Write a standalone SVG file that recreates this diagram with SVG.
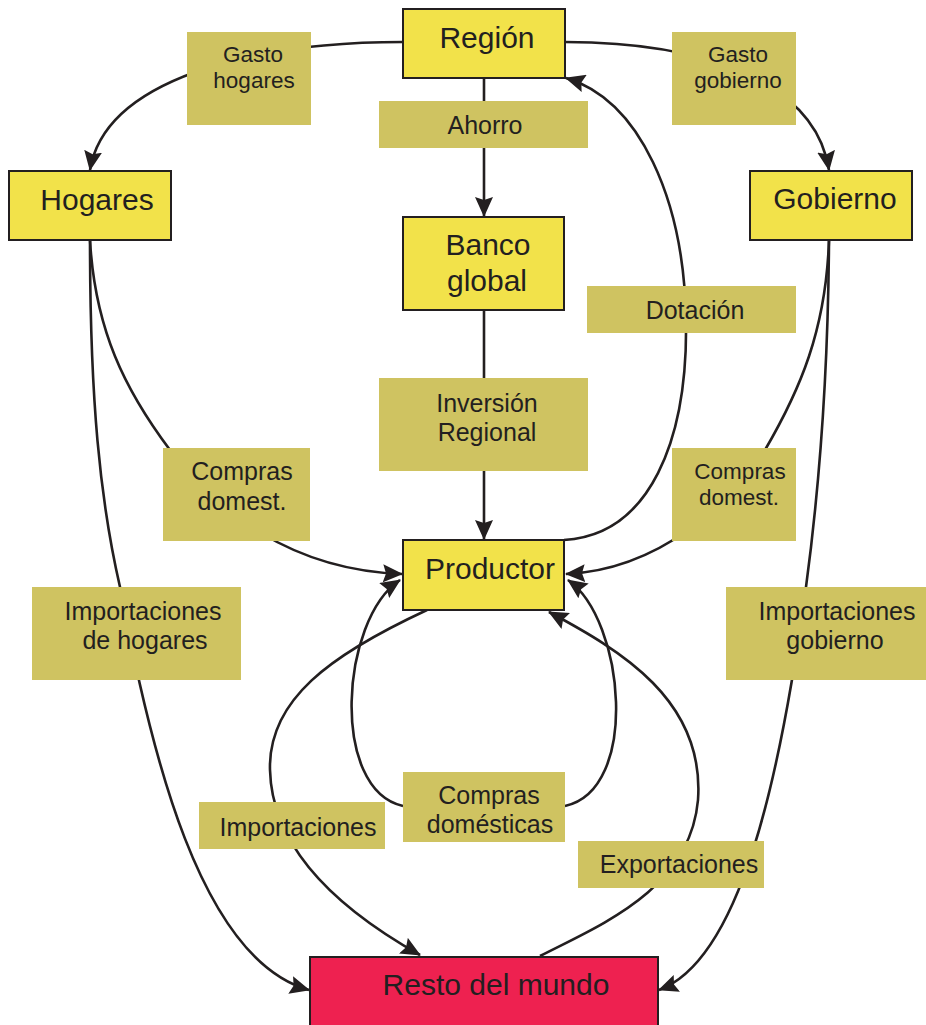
<svg xmlns="http://www.w3.org/2000/svg" width="926" height="1025" viewBox="0 0 926 1025">
<defs>
<marker id="arr" viewBox="0 0 20 18" refX="19" refY="9" markerWidth="20" markerHeight="18" markerUnits="userSpaceOnUse" orient="auto">
<path d="M0,0 L20,9 L0,18 L3,9 z" fill="#231F20"/>
</marker>
<style>
.c{fill:none;stroke:#231F20;stroke-width:2.6}
.a{marker-end:url(#arr)}
.n{fill:#F2E24A;stroke:#231F20;stroke-width:2}
.r{fill:#EE2150;stroke:#231F20;stroke-width:2}
.l{fill:#CFC361}
text{font-family:"Liberation Sans",Arial,sans-serif;fill:#231F20;text-anchor:middle}
.t{font-size:30px}
.s{font-size:25px}
.g{font-size:22.5px}
</style>
</defs>
<rect width="926" height="1025" fill="#FFFFFF"/>
<g id="connectors">
<path class="c a" d="M403,42 C 250,42 105,80 90,170"/>
<path class="c a" d="M565,42 C 700,42 815,80 829,170"/>
<path class="c a" d="M484,78 L484,216"/>
<path class="c a" d="M484,310 L484,539"/>
<path class="c a" d="M564,540 C 650,535 688,440 686,320 C 684,200 640,100 566,78"/>
<path class="c a" d="M90,240 C 95,330 125,390 170,450 C 215,510 290,570 402,574"/>
<path class="c a" d="M829,240 C 826,330 800,390 765,450 C 735,500 660,570 566,574"/>
<path class="c a" d="M90,240 C 90,400 100,500 120,587 C 150,750 200,960 309,990"/>
<path class="c a" d="M829,240 C 828,400 815,520 806,587 C 780,780 740,960 659,990"/>
<path class="c a" d="M427,610 C 330,655 268,700 270,770 C 272,850 340,910 420,955"/>
<path class="c a" d="M540,956 C 600,925 690,890 698,800 C 705,700 620,650 549,612"/>
<path class="c a" d="M403,806 C 330,790 340,620 400,580"/>
<path class="c a" d="M565,806 C 640,790 625,620 568,580"/>
</g>
<g id="region"><rect class="n" x="403" y="9" width="162" height="69"/><text class="t" x="487" y="48">Región</text></g>
<g id="hogares"><rect class="n" x="9" y="171" width="162" height="69"/><text class="t" x="97" y="210">Hogares</text></g>
<g id="gobierno"><rect class="n" x="750" y="171" width="162" height="69"/><text class="t" x="835" y="209">Gobierno</text></g>
<g id="banco"><rect class="n" x="403" y="217" width="161" height="93"/><text class="t" x="488" y="255">Banco</text><text class="t" x="487" y="291">global</text></g>
<g id="productor"><rect class="n" x="403" y="540" width="161" height="70"/><text class="t" x="490" y="579">Productor</text></g>
<g id="resto"><rect class="r" x="310" y="957" width="348" height="80"/><text class="t" x="496" y="995">Resto del mundo</text></g>
<g id="lbl-gasto-hogares"><rect class="l" x="187" y="32" width="124" height="93"/><text class="g" x="253" y="62">Gasto</text><text class="g" x="254" y="88">hogares</text></g>
<g id="lbl-gasto-gobierno"><rect class="l" x="672" y="32" width="124" height="93"/><text class="g" x="738" y="62">Gasto</text><text class="g" x="738" y="88">gobierno</text></g>
<g id="lbl-ahorro"><rect class="l" x="379" y="101" width="209" height="47"/><text class="s" x="485" y="134">Ahorro</text></g>
<g id="lbl-dotacion"><rect class="l" x="587" y="286" width="209" height="47"/><text class="s" x="695" y="319">Dotación</text></g>
<g id="lbl-inversion"><rect class="l" x="379" y="378" width="209" height="93"/><text class="s" x="487" y="412">Inversión</text><text class="s" x="487" y="441">Regional</text></g>
<g id="lbl-compras-h"><rect class="l" x="163" y="448" width="147" height="93"/><text class="s" x="242" y="480">Compras</text><text class="s" x="242" y="510">domest.</text></g>
<g id="lbl-compras-g"><rect class="l" x="672" y="448" width="124" height="93"/><text class="g" x="740" y="479">Compras</text><text class="g" x="739" y="505">domest.</text></g>
<g id="lbl-import-h"><rect class="l" x="32" y="587" width="209" height="93"/><text class="s" x="143" y="620">Importaciones</text><text class="s" x="145" y="649">de hogares</text></g>
<g id="lbl-import-g"><rect class="l" x="726" y="587" width="200" height="93"/><text class="s" x="837" y="620">Importaciones</text><text class="s" x="835" y="649">gobierno</text></g>
<g id="lbl-import"><rect class="l" x="199" y="802" width="186" height="47"/><text class="s" x="298" y="836">Importaciones</text></g>
<g id="lbl-compras-d"><rect class="l" x="403" y="772" width="162" height="70"/><text class="s" x="489" y="804">Compras</text><text class="s" x="490" y="833">domésticas</text></g>
<g id="lbl-export"><rect class="l" x="578" y="841" width="186" height="47"/><text class="s" x="679" y="873">Exportaciones</text></g>
</svg>
